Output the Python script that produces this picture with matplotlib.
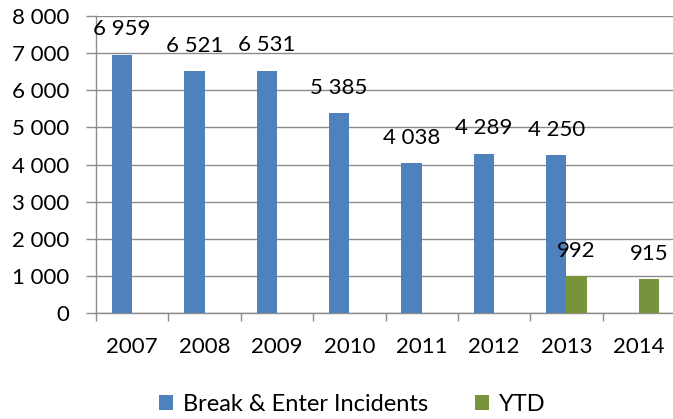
import matplotlib
matplotlib.use("Agg")
import matplotlib.pyplot as plt
import numpy as np

years = ["2007", "2008", "2009", "2010", "2011", "2012", "2013", "2014"]
incidents = [6959, 6521, 6531, 5385, 4038, 4289, 4250, None]
ytd = [None, None, None, None, None, None, 992, 915]
y_ticks = [0, 1000, 2000, 3000, 4000, 5000, 6000, 7000, 8000]

plt.rcParams['font.family'] = ['Lato', 'DejaVu Sans']
FS = 16

W, H = 673, 419
fig = plt.figure(figsize=(W / 100, H / 100), dpi=100)
ax = fig.add_axes([96 / W, (H - 313) / H, (675 - 96) / W, (313 - 16) / H])

blue = "#4F81BD"
green = "#77933C"
grid_c = "#8C8C8C"
bw = 0.28
x = np.arange(len(years))

bx = [i - bw / 2 for i, v in zip(x, incidents) if v is not None]
bv = [v for v in incidents if v is not None]
gx = [i + bw / 2 for i, v in zip(x, ytd) if v is not None]
gv = [v for v in ytd if v is not None]

b1 = ax.bar(bx, bv, width=bw, color=blue, label="Break & Enter Incidents", zorder=3)
b2 = ax.bar(gx, gv, width=bw, color=green, label="YTD", zorder=3)

fmt = lambda v: f"{v:,}".replace(",", " ")
for xs, vs in ((bx, bv), (gx, gv)):
    for xi, v in zip(xs, vs):
        ax.annotate(fmt(v), (xi, v), xytext=(0, 11), textcoords="offset points",
                    ha="center", va="bottom", fontsize=FS, color="black", zorder=4,
                    annotation_clip=False)

ax.set_xlim(-0.5, 7.5)
ax.set_ylim(0, 8000)
ax.set_yticks(y_ticks)
ax.set_yticklabels([fmt(v) for v in y_ticks], fontsize=FS)
ax.set_xticks(x)
ax.set_xticklabels(years, fontsize=FS)
ax.set_xticks(np.arange(-0.5, 8.0, 1.0), minor=True)
ax.tick_params(axis="x", which="major", length=0, pad=17)
ax.tick_params(axis="x", which="minor", length=6, color=grid_c, width=1)
ax.tick_params(axis="y", length=7, color=grid_c, width=1, pad=12)

ax.grid(axis="y", color=grid_c, linewidth=1, zorder=0)
ax.set_axisbelow(True)
for s in ("top", "right"):
    ax.spines[s].set_visible(False)
for s in ("left", "bottom"):
    ax.spines[s].set_color(grid_c)
    ax.spines[s].set_linewidth(1)

fig.legend(handles=[b1, b2], loc="center", bbox_to_anchor=(352 / W, (H - 404) / H),
           ncol=2, frameon=False, fontsize=17, handlelength=0.6, handleheight=0.6,
           handletextpad=0.4, columnspacing=2.0)

fig.savefig("out.png", dpi=100)
